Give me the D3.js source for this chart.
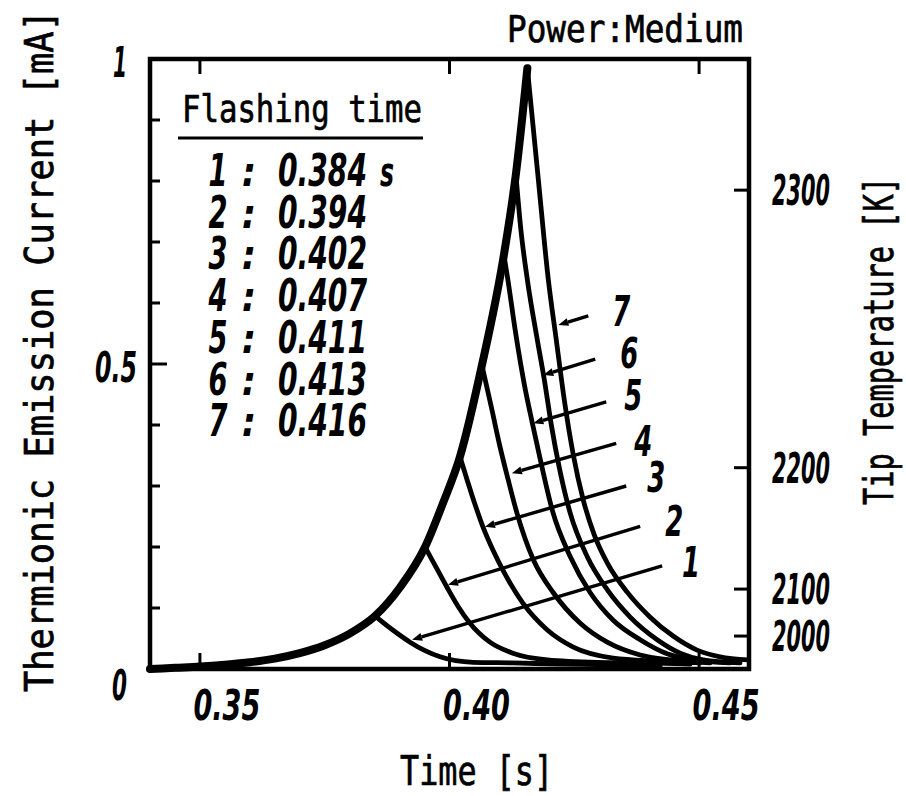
<!DOCTYPE html>
<html><head><meta charset="utf-8">
<script src="https://cdn.jsdelivr.net/npm/d3@7"></script>
<style>
html,body{margin:0;padding:0;background:#fff;}
svg{display:block;}
.mono{font-family:"DejaVu Sans Mono","Liberation Mono",monospace;fill:#000;stroke:#000;stroke-width:0.7px;}
.num{font-family:"DejaVu Sans Condensed","Liberation Sans",sans-serif;font-style:italic;font-weight:bold;fill:#000;}
</style></head>
<body>
<script>
// ---------- data ----------
const timeTicks = [0.35, 0.40, 0.45];
const timeTickLabels = ["0.35", "0.40", "0.45"];
const currentTicks = [0, 0.5, 1];
const currentTickLabels = ["0", "0.5", "1"];
const currentMinorTicks = [0.1, 0.2, 0.3, 0.4, 0.6, 0.7, 0.8, 0.9];
const tempTicks = ["2000", "2100", "2200", "2300"];
const tempTickCurrent = [0.054, 0.131, 0.330, 0.785];

const curveIds = ["1", "2", "3", "4", "5", "6", "7"];
const flashTimes = ["0.384", "0.394", "0.402", "0.407", "0.411", "0.413", "0.416"];

// heating envelope (thick curve)
const envTime    = [0.340, 0.345, 0.350, 0.355, 0.360, 0.365, 0.370, 0.375, 0.380, 0.3851, 0.3901, 0.3951, 0.3987, 0.4021, 0.4065, 0.4109, 0.4133, 0.4156];
const envCurrent = [0.000, 0.002, 0.004, 0.007, 0.011, 0.017, 0.026, 0.039, 0.058, 0.087, 0.134, 0.200, 0.272, 0.348, 0.498, 0.679, 0.811, 0.985];

// cooling curves after each flash
const decay1 = [[0.3851,0.087],[0.3861,0.080],[0.3891,0.061],[0.3921,0.044],[0.3951,0.030],[0.3981,0.020],[0.4047,0.011],[0.4127,0.010],[0.4222,0.008],[0.4328,0.007],[0.4422,0.005]];
const decay2 = [[0.3951,0.200],[0.3973,0.167],[0.3995,0.134],[0.4017,0.103],[0.4041,0.075],[0.4081,0.044],[0.4127,0.026],[0.4196,0.015],[0.4296,0.011],[0.4396,0.010],[0.4482,0.008]];
const decay3 = [[0.4021,0.348],[0.4045,0.285],[0.4067,0.233],[0.4087,0.195],[0.4107,0.162],[0.4147,0.108],[0.4196,0.064],[0.4248,0.036],[0.4328,0.018],[0.4416,0.013],[0.4502,0.010]];
const decay4 = [[0.4065,0.498],[0.4085,0.425],[0.4101,0.365],[0.4117,0.312],[0.4135,0.256],[0.4168,0.179],[0.4208,0.125],[0.4262,0.075],[0.4316,0.044],[0.4382,0.023],[0.4442,0.015],[0.4522,0.010]];
const decay5 = [[0.4109,0.679],[0.4117,0.638],[0.4133,0.548],[0.4150,0.466],[0.4166,0.403],[0.4182,0.343],[0.4206,0.260],[0.4242,0.184],[0.4282,0.125],[0.4328,0.080],[0.4382,0.048],[0.4436,0.025],[0.4488,0.015],[0.4562,0.010]];
const decay6 = [[0.4133,0.811],[0.4143,0.720],[0.4156,0.638],[0.4176,0.539],[0.4190,0.474],[0.4204,0.400],[0.4220,0.330],[0.4242,0.255],[0.4276,0.184],[0.4316,0.130],[0.4362,0.085],[0.4416,0.048],[0.4462,0.026],[0.4508,0.015],[0.4582,0.010]];
const decay7 = [[0.4156,0.985],[0.4178,0.802],[0.4198,0.638],[0.4214,0.539],[0.4230,0.441],[0.4248,0.351],[0.4268,0.277],[0.4290,0.220],[0.4316,0.174],[0.4356,0.126],[0.4402,0.085],[0.4448,0.054],[0.4496,0.031],[0.4542,0.020],[0.4598,0.015]];

// annotation arrows (data units): start near label, tip on curve
const arrowStart = [[0.4426,0.169],[0.4382,0.234],[0.4354,0.300],[0.4334,0.370],[0.4314,0.438],[0.4292,0.508],[0.4278,0.579]];
const arrowTip   = [[0.3925,0.048],[0.3997,0.138],[0.4071,0.233],[0.4125,0.321],[0.4168,0.403],[0.4188,0.482],[0.4218,0.564]];
const labelPos   = [[0.4484,0.175],[0.4450,0.243],[0.4414,0.315],[0.4388,0.374],[0.4368,0.449],[0.4360,0.518],[0.4344,0.587]];

// ---------- drawing ----------
const W = 906, H = 796;
const svg = d3.select("body").append("svg").attr("width", W).attr("height", H);

const x = d3.scaleLinear().domain([0.34, 0.46]).range([150, 749]);
const y = d3.scaleLinear().domain([0, 1]).range([669, 59]);

const line = d3.line().x(d => x(d[0])).y(d => y(d[1])).curve(d3.curveMonotoneX);

// cooling curves
const decays = [decay1, decay2, decay3, decay4, decay5, decay6, decay7];
svg.append("g").selectAll("path").data(decays).join("path")
  .attr("d", line).attr("fill", "none").attr("stroke", "#000")
  .attr("stroke-width", 4.8).attr("stroke-linejoin", "round").attr("stroke-linecap", "round");

// envelope
const env = envTime.map((t, i) => [t, envCurrent[i]]);
svg.append("path").attr("d", line(env)).attr("fill", "none").attr("stroke", "#000")
  .attr("stroke-width", 8).attr("stroke-linejoin", "round").attr("stroke-linecap", "round");

// frame
svg.append("rect").attr("x", x(0.34)).attr("y", y(1)).attr("width", x(0.46) - x(0.34)).attr("height", y(0) - y(1))
  .attr("fill", "none").attr("stroke", "#000").attr("stroke-width", 4.5);

// bottom & top ticks
const tk = svg.append("g").attr("stroke", "#000").attr("stroke-width", 3);
timeTicks.forEach(t => {
  tk.append("line").attr("x1", x(t)).attr("x2", x(t)).attr("y1", y(0)).attr("y2", y(0) - 16);
  tk.append("line").attr("x1", x(t)).attr("x2", x(t)).attr("y1", y(1)).attr("y2", y(1) + 15);
});
// left ticks
currentMinorTicks.forEach(v => {
  tk.append("line").attr("x1", x(0.34)).attr("x2", x(0.34) + 10).attr("y1", y(v)).attr("y2", y(v));
});
tk.append("line").attr("x1", x(0.34)).attr("x2", x(0.34) + 17).attr("y1", y(0.5)).attr("y2", y(0.5));
// right temperature ticks
tempTickCurrent.forEach(v => {
  tk.append("line").attr("x1", x(0.46)).attr("x2", x(0.46) - 15).attr("y1", y(v)).attr("y2", y(v));
});

// tick labels
const numFont = 42;
timeTickLabels.forEach((s, i) => {
  svg.append("text").attr("class", "num").attr("x", x(timeTicks[i]) + 27).attr("y", 720)
    .attr("text-anchor", "middle").attr("font-size", numFont)
    .attr("textLength", 67).attr("lengthAdjust", "spacingAndGlyphs").text(s);
});
const leftLabW = [15, 42, 14];
currentTickLabels.forEach((s, i) => {
  const v = currentTicks[i];
  const base = v === 0 ? y(0) + 31 : y(v) + 18;
  svg.append("text").attr("class", "num").attr("x", v === 0.5 ? 137 : 127).attr("y", base)
    .attr("text-anchor", "end").attr("font-size", numFont)
    .attr("textLength", leftLabW[i]).attr("lengthAdjust", "spacingAndGlyphs").text(s);
});
tempTicks.forEach((s, i) => {
  svg.append("text").attr("class", "num").attr("x", 801).attr("y", y(tempTickCurrent[i]) + 15)
    .attr("text-anchor", "middle").attr("font-size", numFont)
    .attr("textLength", 58).attr("lengthAdjust", "spacingAndGlyphs").text(s);
});

// axis titles
svg.append("text").attr("class", "mono").attr("x", 400).attr("y", 785)
  .attr("font-size", 40).attr("textLength", 153).attr("lengthAdjust", "spacingAndGlyphs").text("Time [s]");
svg.append("text").attr("class", "mono").attr("transform", "translate(53,692) rotate(-90)")
  .attr("font-size", 39).attr("textLength", 682).attr("lengthAdjust", "spacingAndGlyphs")
  .text("Thermionic Emission Current [mA]");
svg.append("text").attr("class", "mono").attr("transform", "translate(893,505) rotate(-90)")
  .attr("font-size", 41).attr("textLength", 328).attr("lengthAdjust", "spacingAndGlyphs")
  .text("Tip Temperature [K]");
svg.append("text").attr("class", "mono").attr("x", 507).attr("y", 42)
  .attr("font-size", 37).attr("textLength", 236).attr("lengthAdjust", "spacingAndGlyphs")
  .text("Power:Medium");

// legend
svg.append("text").attr("class", "mono").attr("x", 182).attr("y", 122)
  .attr("font-size", 37).attr("textLength", 240).attr("lengthAdjust", "spacingAndGlyphs")
  .text("Flashing time");
svg.append("line").attr("x1", 178).attr("x2", 423).attr("y1", 138).attr("y2", 138)
  .attr("stroke", "#000").attr("stroke-width", 3);
curveIds.forEach((id, i) => {
  const by = 186 + i * 41.7;
  svg.append("text").attr("class", "num").attr("x", 218).attr("y", by).attr("text-anchor", "middle")
    .attr("font-size", 44).attr("textLength", 19).attr("lengthAdjust", "spacingAndGlyphs").text(id);
  svg.append("text").attr("class", "num").attr("x", 249).attr("y", by).attr("text-anchor", "middle")
    .attr("font-size", 40).attr("font-weight", "normal").text(":");
  svg.append("text").attr("class", "num").attr("x", 278).attr("y", by)
    .attr("font-size", 44).attr("textLength", 89).attr("lengthAdjust", "spacingAndGlyphs").text(flashTimes[i]);
  if (i === 0) svg.append("text").attr("class", "num").attr("x", 380).attr("y", by)
    .attr("font-size", 40).attr("textLength", 14).attr("lengthAdjust", "spacingAndGlyphs").text("s");
});

// annotation arrows and curve numbers
const ag = svg.append("g");
curveIds.forEach((id, i) => {
  const x0 = x(arrowStart[i][0]), y0 = y(arrowStart[i][1]);
  const x1 = x(arrowTip[i][0]), y1 = y(arrowTip[i][1]);
  const ang = Math.atan2(y1 - y0, x1 - x0);
  const hl = 10, hw = 4;
  const bx = x1 - hl * Math.cos(ang), by = y1 - hl * Math.sin(ang);
  ag.append("line").attr("x1", x0).attr("y1", y0).attr("x2", bx).attr("y2", by)
    .attr("stroke", "#000").attr("stroke-width", 3.4);
  const px = -Math.sin(ang), py = Math.cos(ang);
  ag.append("path").attr("d", `M${x1},${y1}L${bx + px * hw},${by + py * hw}L${bx - px * hw},${by - py * hw}Z`)
    .attr("fill", "#000");
  ag.append("text").attr("class", "num").attr("x", x(labelPos[i][0])).attr("y", y(labelPos[i][1]) + 15)
    .attr("text-anchor", "middle").attr("font-size", 42).attr("textLength", 18)
    .attr("lengthAdjust", "spacingAndGlyphs").text(id);
});
</script>
</body></html>
